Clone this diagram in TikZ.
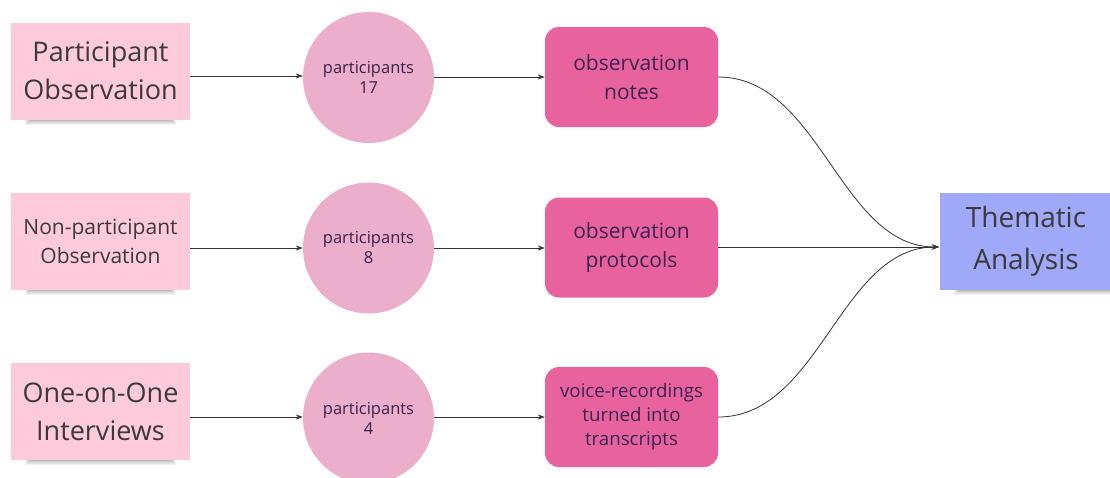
\documentclass[tikz,border=0pt]{standalone}
\usepackage{fontspec}
\setmainfont{Open Sans}
\usetikzlibrary{arrows.meta}
\definecolor{sticky}{HTML}{FFCADC}
\definecolor{circ}{HTML}{EBAFCB}
\definecolor{boxc}{HTML}{E8639E}
\definecolor{thema}{HTML}{A0A8FA}
\definecolor{stxt}{HTML}{3A3A3A}
\definecolor{ptxt}{HTML}{3C2050}
\definecolor{conn}{HTML}{333333}
\tikzset{
  note/.style={fill=sticky, minimum width=179pt, minimum height=97pt, align=center, text=stxt, inner sep=0pt},
  part/.style={circle, fill=circ, minimum size=131pt, align=center, text=ptxt, font=\fontsize{16.5}{20}\selectfont, inner sep=0pt},
  outbox/.style={rounded corners=14pt, fill=boxc, minimum width=173pt, minimum height=100pt, align=center, text=ptxt, font=\fontsize{21}{29}\selectfont, inner sep=0pt},
  themebox/.style={fill=thema, minimum width=172pt, minimum height=97pt, align=center, text=stxt, font=\fontsize{28}{42}\selectfont, inner sep=0pt},
  link/.style={draw=conn, line width=0.8pt, -{Stealth[length=7pt,width=5pt]}},
}
\newcommand{\noteshadow}[2]{%
  \foreach \k in {0,...,6}{
    \fill[black, opacity=0.05] (#1+14+\k,#2-8+\k*0.9) rectangle (#1+165-\k,#2+5-\k*0.9);
  }}
\begin{document}
\begin{tikzpicture}[x=1pt,y=-1pt]
\useasboundingbox (0,0) rectangle (1110,477);
% shadows
\noteshadow{11}{120}
\noteshadow{11}{290}
\noteshadow{11}{460}
\foreach \k in {0,...,6}{
  \fill[black, opacity=0.05] (954+\k,282+\k*0.9) rectangle (1110,295-\k*0.9);
}
% sticky notes
\node[note, font=\fontsize{27}{38}\selectfont] (po) at (100.5,71) {Participant\\Observation};
\node[note, font=\fontsize{21}{29}\selectfont] (npo) at (100.5,241.5) {Non-participant\\Observation};
\node[note, font=\fontsize{27}{38}\selectfont] (ooi) at (100.5,411.5) {One-on-One\\Interviews};
% circles
\node[part] (c1) at (368.5,77.5) {participants\\17};
\node[part] (c2) at (368.5,248) {participants\\8};
\node[part] (c3) at (368.5,418) {participants\\4};
% boxes
\node[outbox] (b1) at (631.5,77) {observation\\notes};
\node[outbox] (b2) at (631.5,247.5) {observation\\protocols};
\node[outbox, font=\fontsize{18.7}{24}\selectfont] (b3) at (631.5,417) {voice-recordings\\turned into\\transcripts};
% thematic
\node[themebox] (ta) at (1026,241.5) {Thematic\\Analysis};
\coordinate (tain) at (939,247);
% links
\draw[link] (po.east |- 0,76) -- (c1.west |- 0,76);
\draw[link] (npo.east |- 0,248) -- (c2.west |- 0,248);
\draw[link] (ooi.east |- 0,417) -- (c3.west |- 0,417);
\draw[link] (c1.east |- 0,77) -- (b1.west |- 0,77);
\draw[link] (c2.east |- 0,248) -- (b2.west |- 0,248);
\draw[link] (c3.east |- 0,417) -- (b3.west |- 0,417);
\draw[link] (b1.east |- 0,77) .. controls (820,77) and (840,247) .. (tain);
\draw[link] (b2.east |- 0,247) -- (tain);
\draw[link] (b3.east |- 0,417) .. controls (820,417) and (840,247) .. (tain);
\end{tikzpicture}
\end{document}
